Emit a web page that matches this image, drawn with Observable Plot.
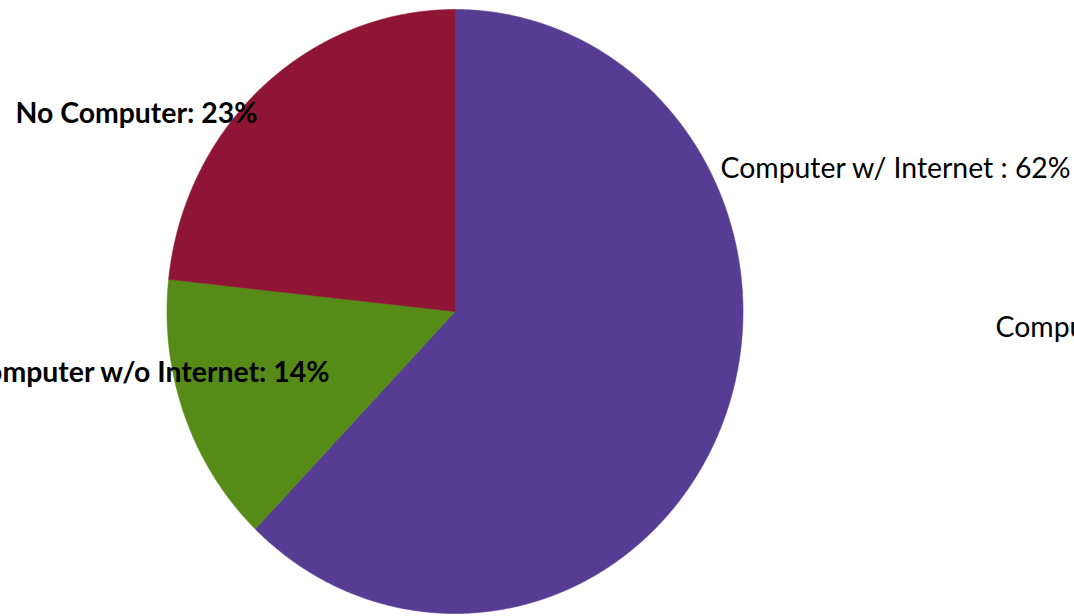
<!DOCTYPE html>
<html><head><meta charset="utf-8">
<script src="https://cdn.jsdelivr.net/npm/d3@7"></script>
<script src="https://cdn.jsdelivr.net/npm/@observablehq/plot@0.6"></script>
<style>html,body{margin:0;padding:0;overflow:hidden;background:#fff}</style>
</head><body><div id="chart"></div>
<script>
const categories = ["Computer w/ Internet", "Computer w/o Internet", "No Computer"];
const values = [62.2, 14.5, 23.3];
const labels = ["Computer w/ Internet : 62%", "Computer w/o Internet: 14%", "No Computer: 23%"];
const colors = ["#573c94", "#568b17", "#8e1534"];
const extraLabel = "Computer";

// layout (pixels, relative to frame)
const labelLayout = [
  {dx: 720, dy: 177, anchor: "start", weight: "normal"},
  {dx: 329, dy: 381, anchor: "end", weight: "bold"},
  {dx: 15, dy: 122, anchor: "start", weight: "bold"}
];

const arcs = d3.pie().sort(null).value(d => d)(values);
const pts = [];
arcs.forEach((a, i) => {
  pts.push({c: categories[i], x: 0, y: 0});
  const n = Math.max(2, Math.ceil((a.endAngle - a.startAngle) / 0.004));
  for (let k = 0; k <= n; k++) {
    const t = a.startAngle + (a.endAngle - a.startAngle) * k / n;
    pts.push({c: categories[i], x: Math.sin(t), y: Math.cos(t)});
  }
  pts.push({c: categories[i], x: 0, y: 0});
});

const font = "Lato, 'Open Sans', sans-serif";
const textMarks = labels.map((t, i) => Plot.text([t], {
  text: d => d, frameAnchor: "top-left", dx: labelLayout[i].dx, dy: labelLayout[i].dy,
  textAnchor: labelLayout[i].anchor, lineAnchor: "bottom", fontSize: 28.4,
  fontWeight: labelLayout[i].weight, fill: "#000", fontFamily: font
}));

const chart = Plot.plot({
  width: 1074, height: 616, margin: 0,
  x: {domain: [-1, 1], range: [166.5, 742.5], axis: null},
  y: {domain: [-1, 1], range: [613, 9], axis: null},
  color: {domain: categories, range: colors},
  style: {fontFamily: font, background: "#fff", overflow: "visible"},
  marks: [
    Plot.line(pts, {x: "x", y: "y", z: "c", fill: "c", stroke: "c", strokeWidth: 0.6, curve: "linear"}),
    ...textMarks,
    Plot.text([extraLabel], {text: d => d, frameAnchor: "top-left", dx: 995, dy: 336, textAnchor: "start",
      lineAnchor: "bottom", fontSize: 28.4, fill: "#000", fontFamily: font})
  ]
});
document.getElementById("chart").appendChild(chart);
</script></body></html>
